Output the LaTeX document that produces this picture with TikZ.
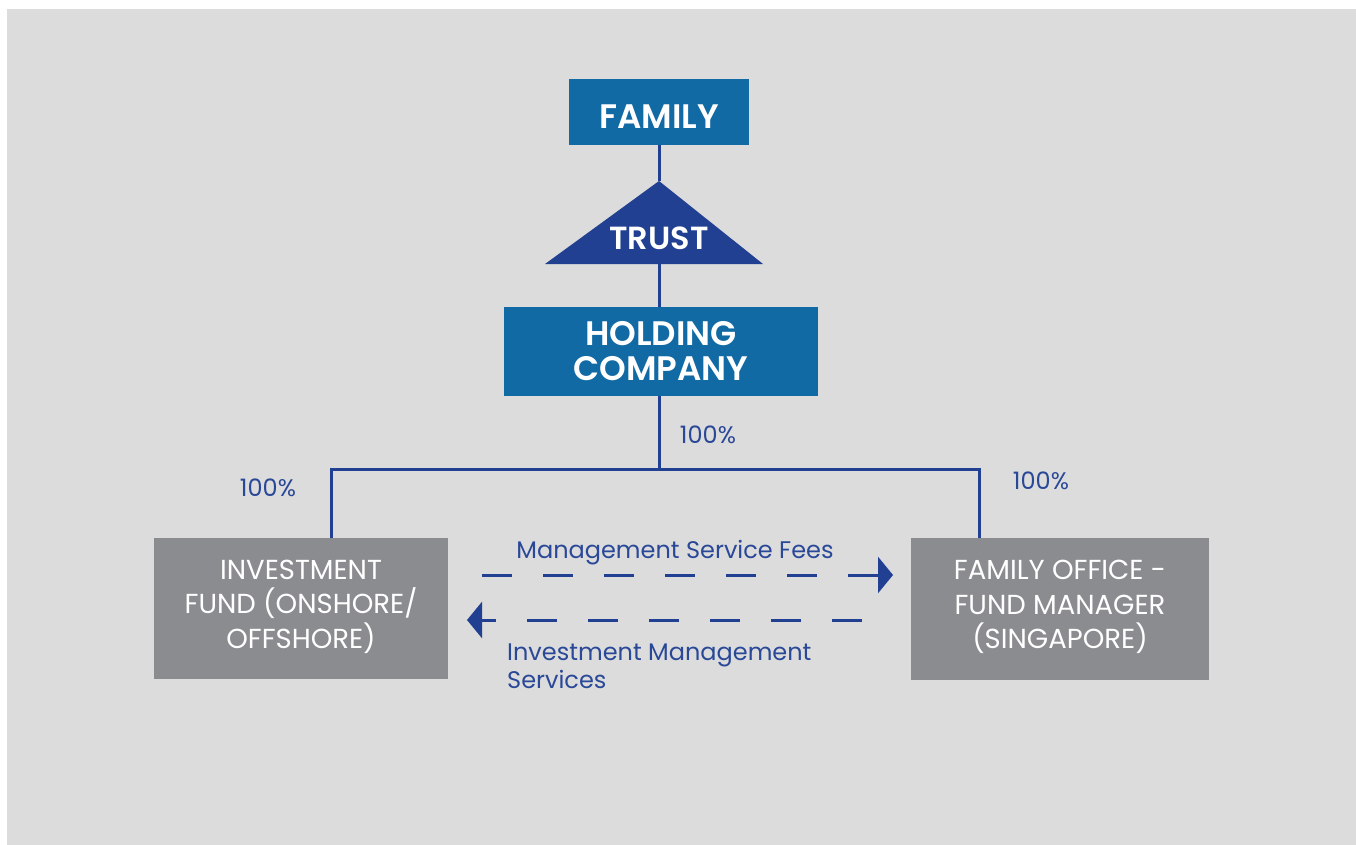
\documentclass[tikz,border=0pt]{standalone}
\usepackage{fontspec}
\setmainfont{Poppins}[BoldFont={Poppins SemiBold}]
\usepackage{xcolor}
\usepackage{tikz}
\usetikzlibrary{calc, arrows.meta, positioning}

\definecolor{boxblue}{RGB}{18,106,165}
\definecolor{trustblue}{RGB}{33,64,146}
\definecolor{boxgray}{RGB}{139,140,144}
\definecolor{backgray}{RGB}{220,220,220}
\definecolor{labelblue}{RGB}{42,72,152}

\begin{document}
\begin{tikzpicture}[x=1pt, y=-1pt, >=latex]
		\tikzstyle{bluebox} = [fill=boxblue, text=white, inner sep=0pt, align=center, font=\fontsize{34}{35}\selectfont\bfseries]
		\tikzstyle{graybox} = [fill=boxgray, text=white, inner sep=0pt, align=center, font=\fontsize{27.5}{34.5}\selectfont]
		\tikzstyle{label} = [text=labelblue, inner sep=0pt, font=\fontsize{24}{28}\selectfont]
		\tikzstyle{link} = [draw=trustblue, line width=3pt]
		\tikzstyle{flow} = [draw=trustblue, line width=3pt, dash pattern=on 30pt off 31pt, -{Triangle[width=36pt, length=15pt]}]
		
		\useasboundingbox (0, 0) rectangle (1356, 845);
		\fill[white] (0, 0) rectangle (1356, 845);
		\fill[backgray] (7, 9) rectangle (1356, 845);
		
		% top of the structure
		\node[bluebox, minimum width=180pt, minimum height=66pt] 	at (659, 112) 	(family) 	{\raisebox{-5pt}[\height][\depth]{FAMILY}};
		\coordinate (apex) at (659, 181);
		\coordinate (base) at (659, 264);
		\fill[trustblue] (apex) -- (763, 264) -- (545, 264) -- cycle;
		\node[text=white, inner sep=0pt, font=\fontsize{32}{34}\selectfont\bfseries] 	at (659, 238) 	(trust) 	{TRUST};
		\node[bluebox, minimum width=314pt, minimum height=89pt] 	at (661, 351.5) 	(holding) 	{HOLDING\\COMPANY};
		
		% subsidiaries
		\node[graybox, minimum width=294pt, minimum height=141pt] 	at (301, 608.5) 	(fund) 	{INVESTMENT\\FUND (ONSHORE/\\OFFSHORE)\\[-26pt]};
		\node[graybox, minimum width=298pt, minimum height=142pt] 	at (1060, 609) 	(office) 	{FAMILY OFFICE -\\FUND MANAGER\\(SINGAPORE)\\[-26pt]};
		\coordinate (bus) at (659, 469);
		
		\path[link]
		(family.south -| apex) 	edge 	(apex)
		(base) 	edge 	(holding.north -| base)
		(holding.south -| bus) 	edge 	(bus);
		\draw[link] (fund.north -| 331, 0) |- (bus) -| (office.north -| 979, 0);
		
		% ownership labels
		\node[label] 	at (708, 435) 	(own0) 	{100\%};
		\node[label] 	at (268, 488) 	(own1) 	{100\%};
		\node[label] 	at (1041, 481) 	(own2) 	{100\%};
		
		% services and fees
		\coordinate (fees start) at (482, 575);
		\coordinate (fees end) at (893, 575);
		\coordinate (serv start) at (862, 620);
		\coordinate (serv end) at (467, 620);
		\draw[flow] (fees start) -- (fees end);
		\draw[flow] (serv start) -- (serv end);
		\node[label] 	at (675, 553) 	(fees) 	{Management Service Fees};
		\node[label, anchor=north west, align=left] 	at (507, 644) 	(serv) 	{Investment Management\\Services};
	\end{tikzpicture}
\end{document}
